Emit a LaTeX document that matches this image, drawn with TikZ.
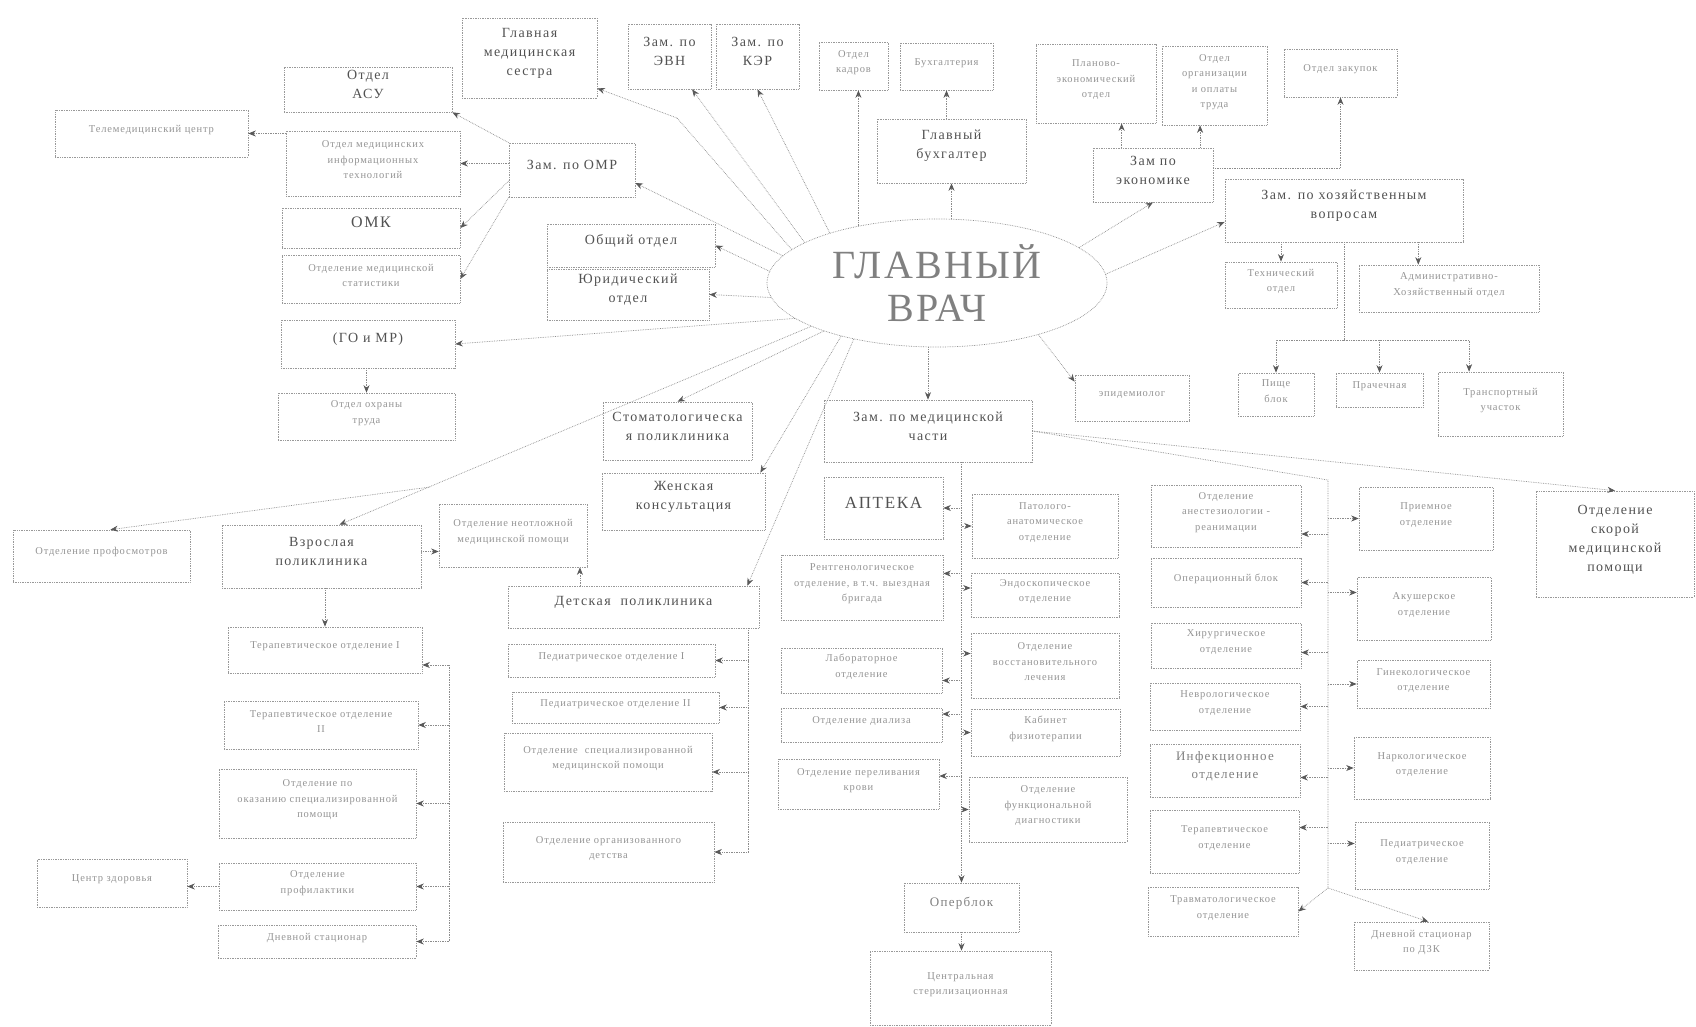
\documentclass[tikz,border=0pt]{standalone}
\usepackage{fontspec}
\setmainfont{Liberation Serif}
\newfontfamily\bigfnt[LetterSpace=10]{Liberation Serif}
\newfontfamily\smfnt[LetterSpace=8]{Liberation Serif}
\newfontfamily\hugefnt[LetterSpace=6]{Liberation Serif}
\usetikzlibrary{fit,calc,arrows.meta,shapes.geometric}
\newcommand\bx[7][]{\node[#1,fit={(#3,#4)(#5,#6)}] (#2) {#7};}
\begin{document}
\begin{tikzpicture}[x=1pt,y=-1pt,
 line/.style={draw=black!45, densely dotted, line width=0.7pt},
 arr/.style={line, -{Stealth[length=7.5pt,width=6pt,color=black!65]}},
 box/.style={draw=black!40, densely dotted, line width=0.7pt, inner sep=0pt, align=center},
 big/.style={box, font=\bigfnt\fontsize{14}{19}\selectfont, text=black!68},
 sm/.style={box, font=\smfnt\fontsize{10.5}{15.5}\selectfont, text=black!42},
 med/.style={box, font=\bigfnt\fontsize{13}{18}\selectfont, text=black!50},
 tup/.style={text depth=#1}]
\useasboundingbox[fill=white] (0,0) rectangle (1696,1027);

% central ellipse
\node[ellipse, draw=black!45, densely dotted, line width=0.7pt, minimum width=340pt, minimum height=128pt, inner sep=0pt,
 font=\hugefnt\fontsize{40}{43}\selectfont, text=black!50, align=center] (ell) at (937,283) {ГЛАВНЫЙ\\ВРАЧ};

% top row
\bx[big]{gms}{462}{18}{597}{98}{Главная\\медицинская\\сестра}
\bx[big,align=left]{evn}{628}{24}{711}{89}{Зам. по\\ЭВН}
\bx[big,align=left]{ker}{716}{24}{799}{89}{Зам. по\\КЭР}
\bx[sm]{kad}{819}{42}{888}{90}{Отдел\\кадров}
\bx[sm]{buh}{900}{43}{993}{90}{Бухгалтерия}
\bx[big]{gb}{877}{119}{1026}{183}{Главный\\бухгалтер}
\bx[sm,tup=16pt]{pe}{1036}{44}{1156}{123}{Планово-\\экономический\\отдел}
\bx[sm]{oot}{1162}{46}{1267}{125}{Отдел\\организации\\и оплаты\\труда}
\bx[sm,tup=21pt]{zak}{1284}{49}{1397}{97}{Отдел закупок}
\bx[big]{zek}{1093}{148}{1213}{202}{Зам по\\экономике}
\bx[big]{zkhoz}{1225}{179}{1463}{242}{Зам. по хозяйственным\\вопросам}
\bx[sm]{tech}{1225}{262}{1337}{308}{Технический\\отдел}
\bx[sm]{aho}{1359}{265}{1539}{312}{Административно-\\Хозяйственный отдел}
\bx[sm]{pb}{1238}{373}{1314}{416}{Пище\\блок}
\bx[sm]{pr}{1336}{373}{1423}{407}{Прачечная}
\bx[sm,tup=19pt]{tu}{1438}{372}{1563}{436}{Транспортный\\участок}

% left upper
\bx[big]{asu}{284}{67}{452}{112}{Отдел\\АСУ}
\bx[sm]{mit}{286}{131}{460}{196}{Отдел медицинских\\информационных\\технологий}
\bx[big,font=\bigfnt\fontsize{16}{19}\selectfont]{omk}{282}{208}{460}{248}{ОМК}
\bx[sm]{stat}{282}{255}{460}{303}{Отделение медицинской\\статистики}
\bx[big,tup=15pt]{gomr}{281}{320}{455}{368}{(ГО и МР)}
\bx[sm]{ot}{278}{393}{455}{440}{Отдел охраны\\труда}
\bx[sm,tup=16pt]{tm}{55}{110}{248}{157}{Телемедицинский центр}
\bx[big,text height=36pt]{omr}{509}{143}{635}{197}{Зам. по ОМР}
\bx[big]{oo}{547}{224}{715}{267}{Общий отдел}
\bx[big]{jur}{547}{269}{709}{320}{Юридический\\отдел}

% lower left
\bx[sm,tup=23pt]{prof}{13}{530}{190}{582}{Отделение профосмотров}
\bx[big]{vzr}{222}{525}{421}{588}{Взрослая\\поликлиника}
\bx[sm,tup=17pt]{neot}{439}{504}{587}{567}{Отделение неотложной\\медицинской помощи}
\bx[big]{stom}{603}{402}{752}{460}{Стоматологическа\\я поликлиника}
\bx[big]{zhk}{602}{473}{765}{530}{Женская\\консультация}
\bx[big]{det}{508}{586}{759}{628}{Детская\ \ поликлиника}
\bx[sm,tup=17pt]{t1}{228}{627}{422}{673}{Терапевтическое отделение I}
\bx[sm]{t2}{224}{701}{418}{749}{Терапевтическое отделение\\II}
\bx[sm]{spec}{219}{769}{416}{838}{Отделение по\\оказанию специализированной\\помощи}
\bx[sm]{prf}{219}{863}{416}{910}{Отделение\\профилактики}
\bx[sm]{dn}{218}{925}{416}{958}{Дневной стационар}
\bx[sm,tup=19pt]{cz}{37}{859}{187}{907}{Центр здоровья}
\bx[sm]{p1}{508}{644}{715}{677}{Педиатрическое отделение I}
\bx[sm]{p2}{512}{692}{719}{723}{Педиатрическое отделение II}
\bx[sm,tup=9pt]{psp}{504}{733}{712}{791}{Отделение\ \ специализированной\\медицинской помощи}
\bx[sm,tup=15pt]{org}{503}{822}{714}{882}{Отделение организованного\\детства}

% center
\bx[big]{zmed}{824}{400}{1032}{462}{Зам. по медицинской\\части}
\bx[sm,tup=19pt]{epi}{1075}{375}{1189}{421}{эпидемиолог}
\bx[big,font=\bigfnt\fontsize{17}{20}\selectfont]{apt}{824}{477}{943}{539}{АПТЕКА}
\bx[sm]{rent}{781}{555}{943}{620}{Рентгенологическое\\отделение, в т.ч. выездная\\бригада}
\bx[sm,align=left]{lab}{781}{648}{942}{693}{Лабораторное\\отделение}
\bx[sm]{dia}{781}{708}{942}{742}{Отделение диализа}
\bx[sm]{per}{778}{759}{939}{809}{Отделение переливания\\крови}
\bx[sm]{pat}{972}{494}{1118}{558}{Патолого-\\анатомическое\\отделение}
\bx[sm]{endo}{971}{573}{1119}{617}{Эндоскопическое\\отделение}
\bx[sm]{vos}{971}{633}{1119}{698}{Отделение\\восстановительного\\лечения}
\bx[sm]{fiz}{971}{709}{1120}{756}{Кабинет\\физиотерапии}
\bx[sm]{fun}{969}{777}{1127}{842}{Отделение\\функциональной\\диагностики}
\bx[med,tup=18pt]{opb}{904}{883}{1019}{932}{Оперблок}
\bx[sm,tup=29pt]{cs}{870}{951}{1051}{1025}{Центральная\\стерилизационная}

% right
\bx[sm]{a1}{1151}{485}{1301}{547}{Отделение\\анестезиологии -\\реанимации}
\bx[sm,tup=22pt]{a2}{1151}{558}{1301}{607}{Операционный блок}
\bx[sm]{a3}{1151}{623}{1301}{668}{Хирургическое\\отделение}
\bx[sm]{a4}{1150}{683}{1300}{730}{Неврологическое\\отделение}
\bx[med]{a5}{1150}{744}{1300}{797}{Инфекционное\\отделение}
\bx[sm,tup=16pt]{a6}{1150}{810}{1299}{873}{Терапевтическое\\отделение}
\bx[sm]{a7}{1148}{887}{1298}{936}{Травматологическое\\отделение}
\bx[sm,tup=20pt]{b1}{1359}{487}{1493}{550}{Приемное\\отделение}
\bx[sm,tup=18pt]{b2}{1357}{577}{1491}{640}{Акушерское\\отделение}
\bx[sm]{b3}{1357}{660}{1490}{708}{Гинекологическое\\отделение}
\bx[sm,tup=17pt,align=left]{b4}{1354}{737}{1490}{799}{Наркологическое\\отделение}
\bx[sm,tup=24pt]{b5}{1355}{822}{1489}{889}{Педиатрическое\\отделение}
\bx[sm]{b6}{1354}{922}{1489}{970}{Дневной стационар\\по ДЗК}
\bx[big]{skor}{1536}{491}{1694}{597}{Отделение\\скорой\\медицинской\\помощи}

% ---- connectors: top
\coordinate (k1) at (677,118);
\draw[line] (ell.167) -- (k1);
\draw[arr] (k1) -- ([yshift=10pt]gms.south east);
\draw[arr] (ell.163) -- ($(evn.south west)!.77!(evn.south east)$);
\draw[arr] (ell.155) -- (ker.south);
\draw[arr] (ell.144) -- (ell.144 |- kad.south);
\draw[arr] (gb.south |- ell.north) -- (gb.south);
\draw[arr] (buh.south |- gb.north) -- (buh.south);
\draw[arr] (ell.14) -- (zek.south);
\draw[arr] (ell.3) -- ($(zkhoz.south west)!.32!(zkhoz.north west)$);
\coordinate (z1) at ($(zek.north west)!.24!(zek.north east)$);
\draw[arr] (z1) -- (z1 |- pe.south);
\coordinate (z2) at ($(zek.north west)!.89!(zek.north east)$);
\draw[arr] (z2) -- (z2 |- oot.south);
\draw[arr] ([yshift=7pt]zek.east) -| (zak.south);
\draw[arr] (tech.north |- zkhoz.south) -- (tech.north);
\coordinate (ah) at ($(aho.north west)!.33!(aho.north east)$);
\draw[arr] (ah |- zkhoz.south) -- (ah);
\coordinate (hb) at (1344,340);
\draw[line] (zkhoz.south) -- (hb);
\draw[arr] (hb) -| (pb.north);
\draw[arr] (hb) -| (pr.north);
\coordinate (tt) at ($(tu.north west)!.25!(tu.north east)$);
\draw[arr] (hb) -| (tt);

% left
\draw[arr] (ell.170) -- ([yshift=-13pt]omr.east);
\draw[arr] (ell.176) -- (oo.east);
\draw[arr] (ell.185) -- (jur.east);
\draw[arr] (ell.194) -- (gomr.east);
\draw[arr] (gomr.south -| ot.north) -- (ot.north);
\draw[arr] (omr.north west) -- (asu.south east);
\draw[arr] (mit.east -| omr.west) -- (mit.east);
\draw[arr] ($(omr.north west)!.7!(omr.south west)$) -- (omk.east);
\draw[arr] (omr.south west) -- (stat.east);
\draw[arr] (tm.east -| mit.west) -- (tm.east);

% lower left
\coordinate (sp) at (430,487);
\coordinate (vz) at ($(vzr.north west)!.59!(vzr.north east)$);
\draw[arr] (ell.199) -- (vz);
\coordinate (pf) at ($(prof.north west)!.55!(prof.north east)$);
\draw[arr] (sp) -- (pf);
\draw[arr] (ell.203) -- (stom.north);
\draw[arr] (ell.209) -- ([xshift=-5pt]zhk.north east);
\draw[arr] (ell.214) -- ([xshift=-12pt]det.north east);
\coordinate (ve) at ([yshift=5pt]vzr.east);
\draw[arr] (ve) -- (ve -| neot.west);
\coordinate (nd) at ($(neot.south west)!.95!(neot.south east)$);
\draw[arr] (nd |- det.north) -- (nd);
\draw[arr] (vzr.south -| t1.north) -- (t1.north);
\coordinate (vb) at (449,665);
\draw[line] (vb) -- (vb |- dn.east);
\draw[arr] (vb) -- (vb -| t1.east);
\draw[arr] (vb |- t2.east) -- (t2.east);
\draw[arr] (vb |- spec.east) -- (spec.east);
\draw[arr] (vb |- prf.east) -- (prf.east);
\draw[arr] (vb |- dn.east) -- (dn.east);
\draw[arr] (prf.west) -- (prf.west -| cz.east);
\coordinate (db) at ([xshift=-11pt]det.south east);
\draw[line] (db) -- (db |- org.east);
\draw[arr] (db |- p1.east) -- (p1.east);
\draw[arr] (db |- p2.east) -- (p2.east);
\coordinate (psE) at ([yshift=-10pt]psp.east);
\draw[arr] (psE -| db) -- (psE);
\draw[arr] (db |- org.east) -- (org.east);

% center
\draw[arr] (zmed.north |- ell.south) -- (zmed.north);
\coordinate (ep) at ($(epi.north west)!.15!(epi.south west)$);
\draw[arr] (ell.333) -- (ep);
\draw[arr] (zmed.east) -- (skor.north);
\coordinate (rb) at (1328,480);
\coordinate (rbb) at (1328,888);
\draw[line] (zmed.east) -- (rb) -- (rbb);
\coordinate (a1e) at ([yshift=-18pt]a1.east);
\draw[arr] (rb |- a1e) -- (a1e);
\draw[arr] (rb |- a2.east) -- (a2.east);
\coordinate (a3e) at ([yshift=-7pt]a3.east);
\draw[arr] (rb |- a3e) -- (a3e);
\draw[arr] (rb |- a4.east) -- (a4.east);
\coordinate (a5e) at ([yshift=-7pt]a5.east);
\draw[arr] (rb |- a5e) -- (a5e);
\coordinate (a6e) at ([yshift=14pt]a6.east);
\draw[arr] (rb |- a6e) -- (a6e);
\draw[arr] (rbb) -- (a7.east);
\draw[arr] (rb |- b1.west) -- (b1.west);
\coordinate (b2w) at ([yshift=16pt]b2.west);
\draw[arr] (rb |- b2w) -- (b2w);
\draw[arr] (rb |- b3.west) -- (b3.west);
\draw[arr] (rb |- b4.west) -- (b4.west);
\coordinate (b5w) at ([yshift=12pt]b5.west);
\draw[arr] (rb |- b5w) -- (b5w);
\draw[arr] (rbb) -- ($(b6.north west)!.55!(b6.north east)$);

\coordinate (cb) at (opb.north |- zmed.south);
\draw[arr] (cb) -- (opb.north);
\draw[arr] (cb |- apt.east) -- (apt.east);
\coordinate (re) at ([yshift=14pt]rent.east);
\draw[arr] (cb |- re) -- (re);
\coordinate (le) at ([yshift=-10pt]lab.east);
\draw[arr] (cb |- le) -- (le);
\coordinate (de) at ([yshift=11pt]dia.east);
\draw[arr] (cb |- de) -- (de);
\coordinate (pe2) at ([yshift=8pt]per.east);
\draw[arr] (cb |- pe2) -- (pe2);
\draw[arr] (cb |- pat.west) -- (pat.west);
\coordinate (ew) at ([yshift=7pt]endo.west);
\draw[arr] (cb |- ew) -- (ew);
\coordinate (vw) at ([yshift=12pt]vos.west);
\draw[arr] (cb |- vw) -- (vw);
\draw[arr] (cb |- fiz.west) -- (fiz.west);
\draw[arr] (cb |- fun.west) -- (fun.west);
\draw[arr] (opb.south) -- (opb.south |- cs.north);
\end{tikzpicture}
\end{document}
